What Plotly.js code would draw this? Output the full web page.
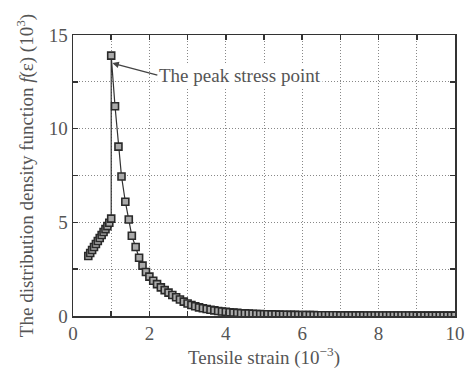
<!DOCTYPE html>
<html>
<head>
<meta charset="utf-8">
<script src="https://cdn.plot.ly/plotly-3.0.1.min.js"></script>
<style>html,body{margin:0;padding:0;background:#fff;}#chart{width:468px;height:378px;}</style>
</head>
<body>
<div id="chart"></div>
<script>
// Tensile strain (10^-3)
const strain = [0.4,0.45,0.5,0.55,0.6,0.65,0.7,0.75,0.8,0.85,0.9,0.95,1.0,
  1.0,1.1,1.19,1.27,1.37,1.46,1.54,1.64,1.73,1.82,1.91,
  2.0,2.1,2.2,2.3,2.4,2.5,2.6,2.7,2.8,2.9,
  3.0,3.1,3.2,3.3,3.4,3.5,3.6,3.7,3.8,3.9,
  4.0,4.1,4.2,4.3,4.4,4.5,4.6,4.7,4.8,4.9,
  5.0,5.1,5.2,5.3,5.4,5.5,5.6,5.7,5.8,5.9,
  6.0,6.1,6.2,6.3,6.4,6.5,6.6,6.7,6.8,6.9,
  7.0,7.1,7.2,7.3,7.4,7.5,7.6,7.7,7.8,7.9,
  8.0,8.1,8.2,8.3,8.4,8.5,8.6,8.7,8.8,8.9,
  9.0,9.1,9.2,9.3,9.4,9.5,9.6,9.7,9.8,9.9,10.0];
// Distribution density function f(eps) (10^3)
const density = [3.2,3.36,3.52,3.68,3.84,4.0,4.16,4.32,4.48,4.64,4.8,4.98,5.2,
  13.9,11.2,9.04,7.45,6.1,5.15,4.28,3.68,3.11,2.69,2.35,
  2.1,1.88,1.7,1.53,1.38,1.25,1.12,1.0,0.88,0.77,
  0.67,0.59,0.52,0.46,0.41,0.37,0.33,0.3,0.27,0.24,
  0.22,0.2,0.18,0.165,0.15,0.14,0.13,0.12,0.11,0.1,
  0.095,0.09,0.085,0.08,0.075,0.07,0.066,0.062,0.058,0.055,
  0.052,0.05,0.048,0.046,0.044,0.042,0.04,0.039,0.038,0.037,
  0.036,0.035,0.034,0.033,0.032,0.031,0.03,0.03,0.029,0.028,
  0.028,0.027,0.026,0.026,0.025,0.025,0.024,0.024,0.023,0.023,
  0.022,0.022,0.021,0.021,0.02,0.02,0.02,0.019,0.019,0.019,0.018];
const xTickVals = [0,2,4,6,8,10];
const yTickVals = [0,5,10,15];
const peakLabel = 'The peak stress point';

const font = {family: 'Liberation Serif, serif', size: 19, color: '#555'};

const trace = {
  x: strain, y: density, type: 'scatter', mode: 'lines+markers',
  line: {color: '#333', width: 1.2},
  marker: {symbol: 'square', size: 7, color: '#aaa', line: {color: '#2a2a2a', width: 1.6}},
  hoverinfo: 'skip'
};

const gridStyle = {showgrid: true, gridcolor: '#888', griddash: '1px,2px', gridwidth: 1};
const axisCommon = Object.assign({
  showline: true, mirror: 'ticks', linecolor: '#333', linewidth: 1.5,
  ticks: 'inside', ticklen: 5, tickcolor: '#333', tickwidth: 1.5,
  zeroline: false, tickfont: font
}, gridStyle);

const layout = {
  width: 468, height: 378,
  paper_bgcolor: '#fff', plot_bgcolor: '#fff',
  margin: {l: 73, r: 13, t: 35, b: 62},
  showlegend: false,
  font: font,
  xaxis: Object.assign({}, axisCommon, {
    range: [0, 10], tickmode: 'array', tickvals: xTickVals,
    minor: Object.assign({dtick: 1, tick0: 0, ticks: 'inside', ticklen: 5, tickcolor: '#333', tickwidth: 1.5}, gridStyle),
    title: {text: 'Tensile strain (10<sup>−3</sup>)', font: font, standoff: 4}
  }),
  yaxis: Object.assign({}, axisCommon, {
    range: [0, 15], tickmode: 'array', tickvals: yTickVals,
    minor: Object.assign({dtick: 2.5, tick0: 0, ticks: 'inside', ticklen: 5, tickcolor: '#333', tickwidth: 1.5}, gridStyle),
    title: {text: 'The distribution density function <i>f</i>(ε) (10<sup>3</sup>)', font: font, standoff: 10}
  }),
  annotations: [{
    x: 1.03, y: 13.5, xref: 'x', yref: 'y',
    text: peakLabel, showarrow: true, arrowhead: 2, arrowsize: 1, arrowwidth: 1.3, arrowcolor: '#444',
    ax: 45, ay: 12, xanchor: 'left', yanchor: 'middle',
    bgcolor: '#fff', font: font
  }]
};

Plotly.newPlot('chart', [trace], layout, {displayModeBar: false, staticPlot: true});
</script>
</body>
</html>
